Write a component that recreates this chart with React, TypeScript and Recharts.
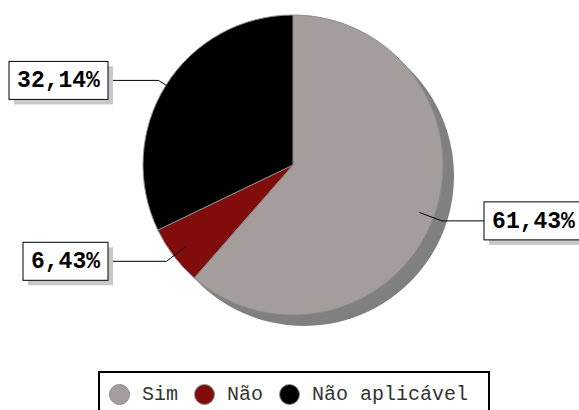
import React from "react"
import { PieChart, Pie, Cell, Legend } from "recharts"

const categories = ["Sim", "Não", "Não aplicável"]
const values = [61.43, 6.43, 32.14]
const colors = ["#a59d9c", "#800c0c", "#000000"]

const data = categories.map((name, i) => ({ name, value: values[i] }))

const RAD = Math.PI / 180
const MONO = "'Liberation Mono', 'Courier New', monospace"

const fmt = (v: number) => v.toFixed(2).replace(".", ",") + "%"

const renderLabel = (props: any) => {
  const { cx, cy, midAngle, outerRadius, value } = props
  const cos = Math.cos(-midAngle * RAD)
  const sin = Math.sin(-midAngle * RAD)
  const sx = cx + outerRadius * 0.9 * cos
  const sy = cy + outerRadius * 0.9 * sin
  const ex = cx + outerRadius * 1.06 * cos
  const ey = cy + outerRadius * 1.06 * sin
  const right = cos >= 0
  const edge = right ? cx + 191 : cx - 185
  const text = fmt(value)
  const w = text.length * 14 + 15
  const h = 38
  const bx = right ? edge : edge - w
  const by = ey - h / 2
  return (
    <g>
      <polyline
        points={`${sx},${sy} ${ex},${ey} ${edge},${ey}`}
        fill="none"
        stroke="#000"
        strokeWidth={1}
      />
      <rect x={bx + 5} y={by + 5} width={w} height={h} fill="#c8c8c8" />
      <rect x={bx} y={by} width={w} height={h} fill="#fff" stroke="#000" strokeWidth={1} />
      <text
        x={bx + w / 2}
        y={ey + 1}
        textAnchor="middle"
        dominantBaseline="central"
        fontFamily={MONO}
        fontWeight="bold"
        fontSize={23}
        fill="#000"
      >
        {text}
      </text>
    </g>
  )
}

const renderLegend = () => (
  <div
    style={{
      border: "2px solid #000",
      background: "#fff",
      height: 42,
      display: "flex",
      alignItems: "center",
      paddingLeft: 9,
      paddingTop: 4,
      boxSizing: "border-box",
      fontFamily: MONO,
      fontSize: 20,
      color: "#333",
    }}
  >
    {categories.map((c, i) => (
      <div key={c} style={{ display: "flex", alignItems: "center", marginRight: 16 }}>
        <svg width={21} height={21} style={{ marginRight: 12 }}>
          <circle cx={10.5} cy={10.5} r={10} fill={colors[i]} stroke="#8a8a8a" strokeWidth={1} />
        </svg>
        <span>{c}</span>
      </div>
    ))}
  </div>
)

export default function App() {
  return (
    <div style={{ position: "absolute", left: 0, top: 0, width: 579, height: 410, background: "#fff", overflow: "hidden" }}>
      <PieChart width={579} height={410} margin={{ top: 0, right: 0, bottom: 0, left: 0 }}>
        <Pie
          data={data}
          dataKey="value"
          cx={304}
          cy={176}
          outerRadius={150}
          startAngle={90}
          endAngle={-270}
          stroke="none"
          isAnimationActive={false}
          legendType="none"
        >
          {data.map((d) => (
            <Cell key={d.name} fill="#808080" />
          ))}
        </Pie>
        <Pie
          data={data}
          dataKey="value"
          cx={293}
          cy={165}
          outerRadius={150}
          startAngle={90}
          endAngle={-270}
          stroke="#8c8c8c"
          strokeWidth={1}
          label={renderLabel}
          labelLine={false}
          isAnimationActive={false}
        >
          {data.map((d, i) => (
            <Cell key={d.name} fill={colors[i]} />
          ))}
        </Pie>
        <Legend
          content={renderLegend}
          wrapperStyle={{ left: 98, top: 371, width: 392, height: 42 }}
        />
      </PieChart>
    </div>
  )
}
